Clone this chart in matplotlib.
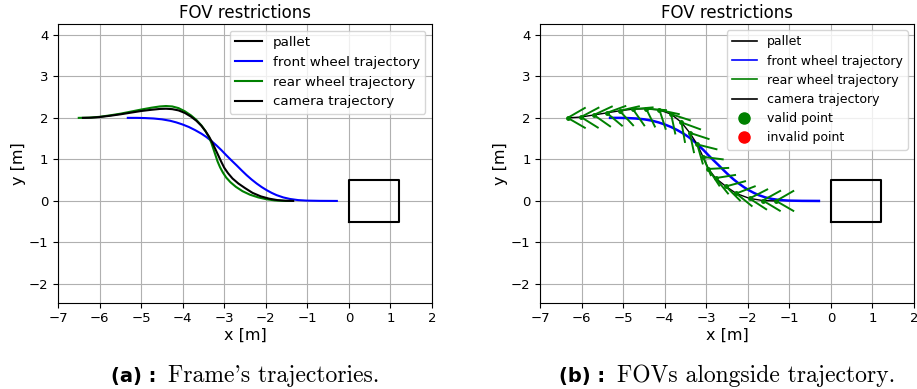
import numpy as np
import matplotlib
matplotlib.use("Agg")
import matplotlib.pyplot as plt
from matplotlib.lines import Line2D

# ---------------- data ----------------
pallet_x = [0.0, 1.2]
pallet_y = [-0.5, 0.5]

front_x = [-5.32, -5.10, -4.90, -4.70, -4.50, -4.30, -4.15, -4.00, -3.85, -3.70, -3.55, -3.43,
           -3.31, -3.19, -3.07, -2.95, -2.83, -2.70, -2.58, -2.46, -2.34, -2.22, -2.10, -1.98,
           -1.86, -1.74, -1.58, -1.42, -1.22, -1.02, -0.70, -0.29]
front_y = [2.000, 2.000, 1.995, 1.985, 1.965, 1.930, 1.890, 1.840, 1.780, 1.705, 1.620, 1.540,
           1.445, 1.340, 1.225, 1.100, 0.980, 0.855, 0.735, 0.620, 0.515, 0.420, 0.335, 0.260,
           0.195, 0.140, 0.085, 0.048, 0.020, 0.008, 0.002, 0.000]

rear_x = [-6.50, -6.25, -6.00, -5.75, -5.50, -5.25, -5.00, -4.75, -4.55, -4.40, -4.25, -4.10,
          -3.95, -3.80, -3.67, -3.55, -3.45, -3.37, -3.31, -3.26, -3.21, -3.16, -3.10, -3.03,
          -2.95, -2.85, -2.72, -2.56, -2.38, -2.18, -1.98, -1.78, -1.58, -1.35]
rear_y = [2.000, 2.005, 2.025, 2.060, 2.100, 2.150, 2.200, 2.245, 2.275, 2.285, 2.275, 2.235,
          2.160, 2.060, 1.950, 1.820, 1.680, 1.540, 1.400, 1.250, 1.100, 0.950, 0.810, 0.680,
          0.560, 0.450, 0.340, 0.235, 0.150, 0.085, 0.040, 0.012, 0.002, 0.000]

camera_x = [-6.40, -6.20, -6.00, -5.75, -5.50, -5.25, -5.00, -4.75, -4.55, -4.40, -4.25, -4.10,
            -3.95, -3.80, -3.67, -3.55, -3.45, -3.36, -3.28, -3.21, -3.14, -3.07, -3.00, -2.91,
            -2.80, -2.66, -2.50, -2.32, -2.12, -1.92, -1.72, -1.52, -1.34]
camera_y = [2.000, 2.005, 2.020, 2.050, 2.085, 2.125, 2.165, 2.195, 2.215, 2.220, 2.210, 2.180,
            2.120, 2.030, 1.930, 1.810, 1.680, 1.540, 1.390, 1.240, 1.090, 0.940, 0.800, 0.670,
            0.540, 0.420, 0.310, 0.195, 0.110, 0.055, 0.020, 0.004, 0.000]

# camera poses along the trajectory (panel b)
pose_x = [-6.34, -6.02, -5.71, -5.40, -5.09, -4.77, -4.45, -4.13, -3.85, -3.60, -3.40, -3.22,
          -3.08, -2.95, -2.78, -2.53, -2.28, -1.96, -1.64, -1.32]
pose_y = [2.00, 2.02, 2.07, 2.12, 2.17, 2.21, 2.22, 2.19, 2.09, 1.89, 1.64, 1.36,
          1.06, 0.77, 0.55, 0.35, 0.18, 0.06, 0.01, 0.00]
pose_heading_deg = [0, -2, -5, -10, -17, -25, -34, -42, -48, -50, -48, -44,
                    -37, -27, -21, -15, -9, -3, -1, 0]
fov_half_deg = 30
fov_range = 0.5

x_ticks = [-7, -6, -5, -4, -3, -2, -1, 0, 1, 2]
y_ticks = [-2, -1, 0, 1, 2, 3, 4]

# ---------------- figure ----------------
W, H = 917, 389
fig = plt.figure(figsize=(W / 100, H / 100), dpi=100)

ax_a = fig.add_axes([58 / W, 86.3 / H, 374 / W, 278.7 / H])
ax_b = fig.add_axes([540.3 / W, 86.3 / H, 373.7 / W, 278.7 / H])


def setup(ax):
    ax.set_xlim(-7, 2)
    ax.set_ylim(-2.45, 4.26)
    ax.set_xticks(x_ticks)
    ax.set_yticks(y_ticks)
    ax.grid(True, color="#b0b0b0", lw=0.8)
    ax.set_axisbelow(True)
    ax.tick_params(labelsize=9.5)
    ax.set_xlabel("x [m]", fontsize=11.5, labelpad=2)
    ax.set_ylabel("y [m]", fontsize=11.5, labelpad=2)
    ax.set_title("FOV restrictions", fontsize=12, pad=4)


def pallet_outline():
    xs = [pallet_x[0], pallet_x[1], pallet_x[1], pallet_x[0], pallet_x[0]]
    ys = [pallet_y[0], pallet_y[0], pallet_y[1], pallet_y[1], pallet_y[0]]
    return xs, ys


# ---- panel (a)
setup(ax_a)
px, py = pallet_outline()
h1, = ax_a.plot(px, py, color="black", lw=1.5, label="pallet")
h2, = ax_a.plot(front_x, front_y, color="blue", lw=1.5, label="front wheel trajectory")
h3, = ax_a.plot(rear_x, rear_y, color="green", lw=1.5, label="rear wheel trajectory")
h4, = ax_a.plot(camera_x, camera_y, color="black", lw=1.5, label="camera trajectory")
ax_a.legend(handles=[h1, h2, h3, h4], loc="upper right", fontsize=9.7)

# ---- panel (b)
setup(ax_b)
ax_b.plot(px, py, color="black", lw=1.5)
ax_b.plot(front_x, front_y, color="blue", lw=1.8)
ax_b.plot(pose_x, pose_y, color="black", lw=1.0)
for cx, cy, hd in zip(pose_x, pose_y, pose_heading_deg):
    a1 = np.deg2rad(hd + fov_half_deg)
    a2 = np.deg2rad(hd - fov_half_deg)
    ax_b.plot([cx + fov_range * np.cos(a1), cx, cx + fov_range * np.cos(a2)],
              [cy + fov_range * np.sin(a1), cy, cy + fov_range * np.sin(a2)],
              color="green", lw=1.4, solid_capstyle="butt")
ax_b.plot(pose_x, pose_y, "o", color="green", ms=2.5)

hb = [Line2D([], [], color="black", lw=1.2, label="pallet"),
      Line2D([], [], color="blue", lw=1.2, label="front wheel trajectory"),
      Line2D([], [], color="green", lw=1.2, label="rear wheel trajectory"),
      Line2D([], [], color="black", lw=1.2, label="camera trajectory"),
      Line2D([], [], color="green", marker="o", ls="none", ms=8, label="valid point"),
      Line2D([], [], color="red", marker="o", ls="none", ms=8, label="invalid point")]
ax_b.legend(handles=hb, loc="upper right", fontsize=9.0)

# ---- captions
fig.canvas.draw()
renderer = fig.canvas.get_renderer()


def caption(ax, label, text):
    t1 = fig.text(0, 0, label, fontsize=14, fontweight="bold", family="DejaVu Sans", va="baseline")
    t2 = fig.text(0, 0, text, fontsize=17, family=["cmr10", "DejaVu Serif"], va="baseline")
    w1 = t1.get_window_extent(renderer).width
    w2 = t2.get_window_extent(renderer).width
    gap = 11
    bb = ax.get_position()
    cx = (bb.x0 + bb.x1) / 2 * W
    x0 = cx - (w1 + gap + w2) / 2
    yb = (H - 382) / H
    t1.set_position((x0 / W, yb))
    t2.set_position(((x0 + w1 + gap) / W, yb))


caption(ax_a, "(a) :", "Frame's trajectories.")
caption(ax_b, "(b) :", "FOVs alongside trajectory.")

fig.savefig("out.png", dpi=100)
